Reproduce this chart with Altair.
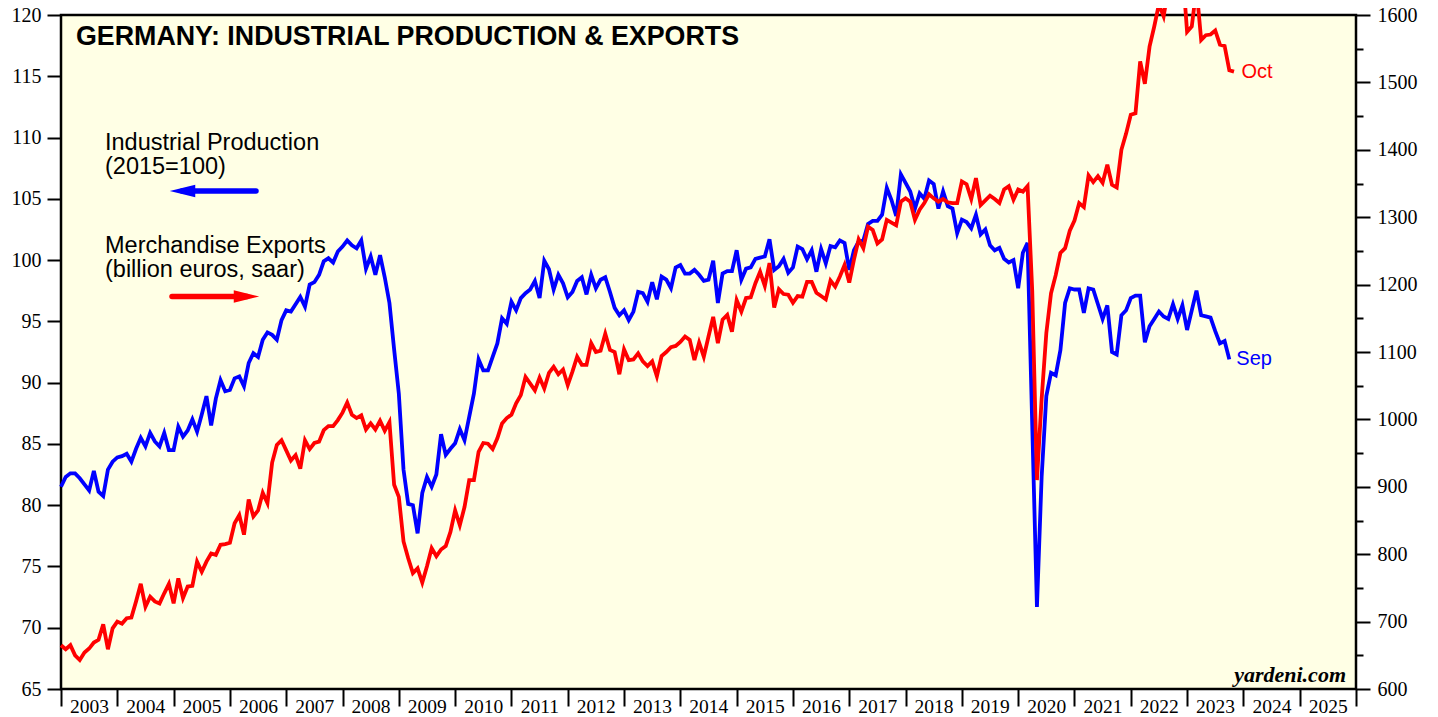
import altair as alt
import pandas as pd

# ---------------- data (monthly, first value = Dec 2002, plotted at month end) ----------------
start_month = "2002-12"

ip_values = [
    81.5,
    82.3, 82.6, 82.6, 82.2, 81.7, 81.2, 82.8, 81.1, 80.75, 82.9, 83.55, 83.9,
    84.0, 84.2, 83.55, 84.6, 85.5, 84.8, 85.9, 85.2, 84.8, 85.9, 84.5, 84.5,
    86.4, 85.6, 86.1, 87.0, 86.0, 87.4, 88.9, 86.5, 88.7, 90.2, 89.3, 89.4,
    90.35, 90.5, 89.7, 91.6, 92.4, 92.1, 93.5, 94.1, 93.9, 93.5, 95.1, 95.9,
    95.8, 96.4, 97.0, 96.2, 98.0, 98.2, 98.8, 99.9, 100.15, 99.8, 100.7, 101.1,
    101.6, 101.2, 100.96, 101.6, 99.3, 100.3, 98.8, 100.4, 98.6, 96.5, 92.7, 89.1,
    82.9, 80.1, 80.0, 77.7, 81.0, 82.3, 81.5, 82.5, 85.8, 84.1, 84.6, 85.05,
    86.2, 85.3, 87.2, 89.1, 91.9, 91.0, 91.0, 92.1, 93.2, 95.25, 94.8, 96.6,
    95.9, 96.9, 97.3, 97.6, 98.3, 96.9, 99.95, 99.25, 97.6, 98.8, 98.1, 96.96,
    97.4, 98.3, 98.6, 97.2, 98.8, 97.7, 98.4, 98.6, 97.4, 96.1, 95.5, 95.9,
    95.1, 95.8, 97.4, 97.3, 96.6, 98.2, 96.8, 98.65, 98.4, 97.7, 99.4, 99.6,
    98.9, 98.9, 99.2, 98.8, 98.3, 98.4, 99.95, 96.5, 98.9, 99.1, 99.1, 100.8,
    98.4, 99.3, 99.4, 100.1, 100.2, 100.3, 101.7, 99.2, 99.5, 100.1, 98.97, 99.4,
    101.1, 100.9, 100.07, 100.8, 99.05, 100.9, 99.74, 101.15, 101.05, 101.6, 101.4, 99.2,
    100.8, 101.5, 101.6, 102.95, 103.2, 103.2, 103.7, 105.9, 104.9, 103.6, 107.0, 106.3,
    105.6, 104.2, 105.45, 105.0, 106.5, 106.2, 104.2, 105.6, 104.4, 104.2, 102.2, 103.3,
    103.1, 102.6, 103.7, 102.1, 102.5, 101.2, 100.8, 101.0, 100.1, 99.8, 100.0, 97.7,
    100.6, 101.4, 86.5, 71.7, 82.3, 88.9, 90.8, 90.6, 92.65, 96.5, 97.7, 97.6,
    97.6, 95.7, 97.7, 97.6, 96.4, 95.2, 96.3, 92.5, 92.3, 95.5, 95.9, 96.9,
    97.1, 97.1, 93.3, 94.6, 95.2, 95.8, 95.4, 95.2, 96.4, 95.2, 96.3, 94.3,
    95.9, 97.5, 95.5, 95.4, 95.3, 94.2, 93.2, 93.4, 91.9,
]

exports_values = [
    665,
    659, 665, 650, 643, 654, 660, 669, 673, 696, 659, 690, 700,
    697, 705, 706, 730, 756, 722, 737, 730, 727, 742, 756, 727,
    764, 735, 752, 753, 789, 774, 789, 801, 799, 814, 815, 817,
    846, 858, 829, 881, 856, 865, 891, 876, 936, 962, 969, 954,
    939, 947, 927, 969, 956, 965, 967, 984, 990, 990, 999, 1010,
    1025, 1007, 1002, 1006, 985, 994, 985, 998, 983, 996, 903, 885,
    819, 794, 772, 779, 758, 782, 809, 797, 807, 812, 833, 865,
    843, 870, 910, 910, 952, 965, 964, 956, 972, 994, 1002, 1007,
    1024, 1036, 1063, 1053, 1043, 1062, 1046, 1069, 1078, 1067, 1074, 1051,
    1071, 1093, 1081, 1081, 1113, 1100, 1102, 1127, 1103, 1100, 1067, 1104,
    1088, 1089, 1098, 1086, 1079, 1086, 1064, 1094, 1100, 1107, 1109, 1115,
    1123, 1118, 1088, 1114, 1093, 1123, 1152, 1113, 1148, 1155, 1130, 1177,
    1160, 1180, 1181, 1202, 1219, 1198, 1232, 1166, 1193, 1186, 1185, 1173,
    1183, 1182, 1204, 1204, 1188, 1183, 1178, 1206, 1197, 1212, 1229, 1203,
    1237, 1267, 1254, 1286, 1281, 1261, 1267, 1296, 1292, 1288, 1323, 1328,
    1323, 1296, 1311, 1321, 1334, 1328, 1323, 1327, 1322, 1321, 1321, 1353,
    1349, 1327, 1358, 1318, 1325, 1332, 1327, 1321, 1341, 1346, 1326, 1341,
    1338, 1346, 1190, 910, 1030, 1128, 1187, 1214, 1247, 1254, 1280, 1295,
    1321, 1315, 1362, 1352, 1361, 1351, 1378, 1348, 1344, 1400, 1424, 1452,
    1454, 1531, 1498, 1553, 1583, 1616, 1598, 1640, 1665, 1650, 1670, 1575,
    1583, 1640, 1563, 1570, 1571, 1577, 1556, 1554, 1518, 1516,
]

title_text = "GERMANY: INDUSTRIAL PRODUCTION & EXPORTS"
ip_label_lines = ["Industrial Production", "(2015=100)"]
ex_label_lines = ["Merchandise Exports", "(billion euros, saar)"]
ip_end_label = "Sep"
ex_end_label = "Oct"
source_text = "yardeni.com"

year_ticks = list(range(2003, 2027))
left_ticks = list(range(65, 121, 5))
right_ticks = list(range(600, 1601, 50))

BLUE = "#0000FF"
RED = "#FF0000"
SERIF = "Liberation Serif"
SANS = "Liberation Sans"


def month_frame(values):
    months = pd.period_range(start_month, periods=len(values), freq="M")
    t = months.year + months.month / 12.0  # month-end as decimal year
    return pd.DataFrame({"t": list(t), "v": values})


ip_df = month_frame(ip_values)
ex_df = month_frame(exports_values)

x_enc = alt.X(
    "t:Q",
    scale=alt.Scale(domain=[2003, 2026], nice=False, zero=False),
    axis=alt.Axis(
        values=year_ticks, format="d",
        labelExpr="datum.value < 2026 ? datum.label : ''",
        tickSize=17, tickWidth=2, tickColor="black",
        labelOffset=28, labelPadding=-9, labelFlush=False, labelOverlap=False,
        labelAlign="center", labelBaseline="top",
        domain=False, grid=False, title=None,
        labelFont=SERIF, labelFontSize=19.5, labelColor="black",
    ),
)

y_ip = alt.Y(
    "v:Q",
    scale=alt.Scale(domain=[65, 120], nice=False, zero=False),
    axis=alt.Axis(
        orient="left", values=left_ticks, format="d",
        tickSize=14, tickWidth=2, tickColor="black", labelPadding=6,
        domain=False, grid=False, title=None, labelOverlap=False,
        labelFont=SERIF, labelFontSize=20, labelColor="black",
    ),
)

y_ex = alt.Y(
    "v:Q",
    scale=alt.Scale(domain=[600, 1600], nice=False, zero=False),
    axis=alt.Axis(
        orient="right", values=right_ticks, format="d",
        labelExpr="datum.value % 100 === 0 ? datum.label : ''",
        tickSize={"condition": {"test": "datum.value % 100 !== 0", "value": 7}, "value": 14},
        tickWidth=2, tickColor="black", labelPadding=7,
        domain=False, grid=False, title=None, labelOverlap=False,
        labelFont=SERIF, labelFontSize=20, labelColor="black",
    ),
)

ip_line = alt.Chart(ip_df).mark_line(color=BLUE, strokeWidth=3.8).encode(x=x_enc, y=y_ip)
ip_end = alt.Chart(ip_df.tail(1)).mark_text(
    color=BLUE, align="left", baseline="middle", dx=7, font=SANS, fontSize=20
).encode(x=x_enc, y=y_ip, text=alt.value(ip_end_label))

ex_line = alt.Chart(ex_df).mark_line(color=RED, strokeWidth=3.8).encode(x=x_enc, y=y_ex)
ex_end = alt.Chart(ex_df.tail(1)).mark_text(
    color=RED, align="left", baseline="middle", dx=7.5, font=SANS, fontSize=20
).encode(x=x_enc, y=y_ex, text=alt.value(ex_end_label))

left = alt.layer(ip_line, ip_end)
right = alt.layer(ex_line, ex_end)

one = alt.InlineData(values=[{"k": 0}])

title_mark = alt.Chart(one).mark_text(
    align="left", baseline="alphabetic", font=SANS, fontWeight="bold", fontSize=26.8, color="black"
).encode(x=alt.value(15), y=alt.value(30), text=alt.value(title_text))

ip_note = alt.Chart(one).mark_text(
    align="left", baseline="alphabetic", font=SANS, fontSize=23.5, lineHeight=23.5, color="black"
).encode(x=alt.value(44), y=alt.value(135), text=alt.value(ip_label_lines))

ex_note = alt.Chart(one).mark_text(
    align="left", baseline="alphabetic", font=SANS, fontSize=23.5, lineHeight=24, color="black"
).encode(x=alt.value(44), y=alt.value(238.3), text=alt.value(ex_label_lines))

blue_shaft = alt.Chart(one).mark_rule(color=BLUE, strokeWidth=5.5, strokeCap="round").encode(
    x=alt.value(121), x2=alt.value(195), y=alt.value(176)
)
blue_head = alt.Chart(one).mark_point(
    shape="M -1 0 L 1 -0.5 L 1 0.5 Z", filled=True, size=650, color=BLUE, opacity=1, strokeWidth=0
).encode(x=alt.value(121.5), y=alt.value(176))

red_shaft = alt.Chart(one).mark_rule(color=RED, strokeWidth=5.5, strokeCap="round").encode(
    x=alt.value(111), x2=alt.value(186), y=alt.value(281.5)
)
red_head = alt.Chart(one).mark_point(
    shape="M 1 0 L -1 -0.5 L -1 0.5 Z", filled=True, size=650, color=RED, opacity=1, strokeWidth=0
).encode(x=alt.value(185.5), y=alt.value(281.5))

source_mark = alt.Chart(one).mark_text(
    align="right", baseline="alphabetic", font=SERIF, fontStyle="italic", fontWeight="bold",
    fontSize=22, color="black"
).encode(x=alt.value(1285), y=alt.value(667), text=alt.value(source_text))

chart = (
    alt.layer(left, right, title_mark, ip_note, ex_note,
              blue_shaft, blue_head, red_shaft, red_head, source_mark)
    .resolve_scale(y="independent")
    .properties(
        width=1295, height=674,
        autosize=alt.AutoSizeParams(type="none"),
        padding={"left": 53, "top": 7, "right": 66, "bottom": 28},
        background="white",
    )
    .configure_view(stroke="black", strokeWidth=2.5, fill="#FFFFE5")
)

chart.save("out.html", embed_options={"renderer": "svg", "actions": False})
